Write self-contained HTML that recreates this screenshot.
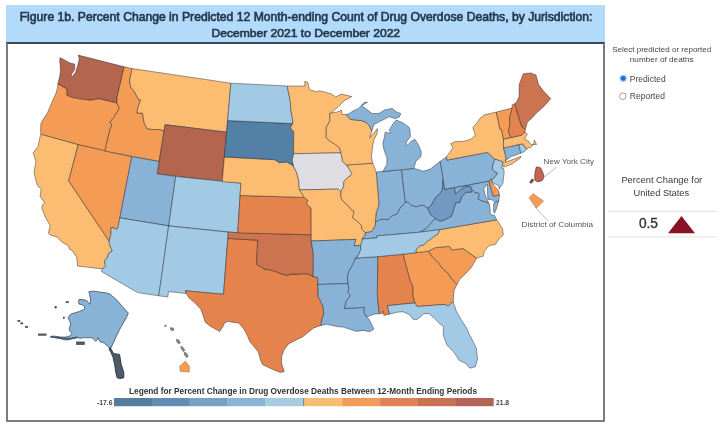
<!DOCTYPE html>
<html><head><meta charset="utf-8">
<style>
html,body{margin:0;padding:0;background:#fff;}
body{width:720px;height:428px;position:relative;overflow:hidden;filter:blur(0.35px);font-family:"Liberation Sans","DejaVu Sans",sans-serif;}
.abs{position:absolute;}
svg text{font-family:"Liberation Sans","DejaVu Sans",sans-serif;white-space:pre;}
#tbar{left:6px;top:5px;width:598.5px;height:37.5px;background:#b2dafb;}
#panel{left:6px;top:42px;width:595px;height:376px;border:2px solid #7c7c7c;border-top:2px solid #3a4a5c;}
</style></head><body>
<div id="tbar" class="abs"></div>
<div id="panel" class="abs"></div>
<svg class="abs" style="left:0;top:0" width="720" height="428" viewBox="0 0 720 428">
<g stroke="rgba(25,30,40,0.55)" stroke-width="0.8" stroke-linejoin="round">
<path fill="#b4654e" d="M60.1,57.6L69.9,62.9L74.6,64.0L74.8,69.4L70.8,75.3L72.3,76.4L75.7,72.3L78.1,64.0L79.3,58.6L78.1,55.1L124.2,66.8L117.0,97.7L116.9,103.0L99.4,98.9L96.9,99.2L89.9,100.3L79.4,98.8L72.5,97.6L66.7,95.3L66.8,92.1L66.8,88.9L63.7,87.4L59.8,84.9L57.8,84.1L59.7,76.5L60.4,71.6L60.2,65.1L59.7,61.1Z"/>
<path fill="#f49b56" d="M57.8,84.1L59.8,84.9L63.7,87.4L66.8,88.9L66.8,92.1L66.7,95.3L72.5,97.6L79.4,98.8L89.9,100.3L96.9,99.2L99.4,98.9L116.9,103.0L119.5,108.8L115.6,114.1L114.3,117.0L111.9,119.6L109.8,122.9L111.4,123.9L111.8,125.9L109.9,129.3L104.9,151.1L78.2,144.7L40.8,134.3L40.6,130.3L40.9,123.4L43.9,118.3L47.5,112.9L51.3,103.7L55.9,93.4L57.7,87.5Z"/>
<path fill="#fcbd72" d="M40.8,134.3L78.2,144.7L68.7,180.9L109.2,241.2L109.3,243.8L111.2,248.6L112.4,251.1L109.0,252.9L106.8,258.5L104.3,260.6L105.6,265.9L102.6,268.9L77.5,266.0L77.2,261.2L76.6,257.2L72.6,251.2L69.0,248.7L68.6,245.8L64.9,243.9L61.2,241.4L57.0,237.2L49.8,234.7L48.4,233.0L50.1,225.7L45.5,217.4L41.8,208.6L42.3,204.9L44.4,202.9L43.0,200.5L40.1,196.5L41.2,189.0L37.2,185.3L34.0,172.6L35.9,161.4L33.1,152.8L38.0,146.5L40.1,136.7Z"/>
<path fill="#f49b56" d="M78.2,144.7L131.9,156.7L118.0,227.7L116.5,229.6L113.3,227.7L110.7,227.8L111.1,230.8L111.0,234.0L109.2,241.2L68.7,180.9Z"/>
<path fill="#f49b56" d="M124.1,66.8L132.2,68.6L129.5,80.8L131.0,87.7L133.9,90.8L138.3,99.2L140.6,99.7L138.0,107.4L136.9,112.8L142.6,113.3L144.0,122.3L146.9,128.5L152.2,129.5L160.3,129.6L164.1,130.8L159.1,161.5L104.9,151.1L109.9,129.3L111.8,125.9L111.4,123.9L109.8,122.9L111.9,119.6L114.3,117.0L115.6,114.1L119.5,108.8L116.9,103.0L117.0,97.7Z"/>
<path fill="#fcbd72" d="M132.2,68.6L230.9,83.2L226.6,132.2L165.1,124.7L164.1,130.8L160.3,129.6L152.2,129.5L146.9,128.5L144.0,122.3L142.6,113.3L136.9,112.8L138.0,107.4L140.6,99.7L138.3,99.2L133.9,90.8L131.0,87.7L129.5,80.8Z"/>
<path fill="#b4654e" d="M165.1,124.7L226.6,132.2L222.2,181.7L157.1,173.8Z"/>
<path fill="#89b3d6" d="M131.8,156.7L159.1,161.5L157.1,173.8L175.7,176.5L168.7,225.9L119.8,217.9Z"/>
<path fill="#a3cae4" d="M175.7,176.5L240.9,183.1L237.7,232.9L168.7,225.9Z"/>
<path fill="#a3cae4" d="M119.8,217.9L168.7,225.9L158.8,295.8L137.5,292.6L101.3,271.4L102.6,268.9L105.6,265.9L104.3,260.6L106.8,258.5L109.0,252.9L112.4,251.1L111.2,248.6L109.3,243.8L109.2,241.2L111.0,234.0L111.1,230.8L110.7,227.8L113.3,227.7L116.5,229.6L117.9,227.7Z"/>
<path fill="#a3cae4" d="M168.7,225.9L228.3,232.2L223.5,294.3L185.4,290.8L186.4,293.6L168.5,291.5L167.8,297.0L158.8,295.8Z"/>
<path fill="#e5834d" d="M227.8,238.4L257.7,240.2L256.6,264.3L260.6,266.8L264.6,269.1L270.8,270.0L276.9,272.0L282.0,274.0L287.2,275.3L291.3,274.1L297.5,274.1L302.7,273.7L307.8,273.8L313.2,276.6L317.8,277.6L318.2,296.9L319.7,299.4L323.1,306.7L323.8,314.1L322.3,317.9L320.9,325.4L313.8,327.9L310.5,330.5L307.3,333.0L302.9,336.7L294.1,341.0L288.5,344.0L284.0,350.1L281.7,356.3L281.6,363.6L284.3,371.6L280.3,372.4L274.7,370.2L270.2,368.3L262.4,364.4L260.3,359.4L258.3,351.9L254.1,346.8L249.9,341.7L246.4,333.5L243.4,328.4L238.8,323.0L232.3,322.2L228.0,321.3L224.6,322.9L222.7,327.1L219.6,331.5L215.4,329.1L210.2,326.2L205.1,322.0L203.4,316.3L200.8,309.2L195.0,303.0L189.1,298.0L186.4,293.6L185.4,290.8L223.5,294.3Z"/>
<path fill="#cc7350" d="M228.3,232.2L311.2,234.8L311.3,241.0L313.4,254.7L313.2,276.6L307.8,273.8L302.7,273.7L297.5,274.1L291.3,274.1L287.2,275.3L282.0,274.0L276.9,272.0L270.8,270.0L264.6,269.1L260.6,266.8L256.6,264.3L257.7,240.2L227.8,238.4Z"/>
<path fill="#e5834d" d="M240.1,195.5L304.3,197.4L308.1,200.5L306.2,203.0L311.1,208.3L311.2,234.8L237.7,232.9Z"/>
<path fill="#fcbd72" d="M224.4,156.9L274.9,159.7L279.4,162.7L286.7,161.9L291.2,164.4L293.5,166.3L296.7,172.5L299.0,181.8L299.0,186.2L299.5,189.9L304.3,197.4L240.1,195.5L240.9,183.1L222.2,181.7Z"/>
<path fill="#5380a6" d="M227.6,120.6L292.8,123.6L290.3,127.8L293.7,131.5L293.6,153.8L292.2,160.0L293.5,166.3L291.2,164.4L286.7,161.9L279.4,162.7L274.9,159.7L224.4,156.9Z"/>
<path fill="#a3cae4" d="M230.9,83.2L287.5,86.0L288.1,90.9L289.3,95.8L290.5,103.2L290.9,110.6L292.5,119.2L292.8,123.6L227.6,120.6Z"/>
<path fill="#fcbd72" d="M287.5,86.0L304.8,86.1L304.8,81.4L307.7,82.2L309.5,89.5L316.2,91.8L319.5,90.7L326.3,92.4L331.4,94.0L335.7,96.9L341.5,94.1L351.8,96.6L344.4,100.7L336.3,108.5L331.3,113.0L329.6,113.7L329.9,121.1L326.2,127.4L326.3,131.1L326.1,137.9L330.7,141.5L335.3,144.4L339.9,148.5L340.9,152.8L293.6,153.8L293.7,131.5L290.3,127.8L292.8,123.6L292.5,119.2L290.9,110.6L290.5,103.2L289.3,95.8L288.1,90.9Z"/>
<path fill="#dedde1" d="M293.6,153.8L340.9,152.8L342.3,159.0L342.4,161.5L346.7,165.0L351.8,173.4L350.1,176.0L347.9,177.4L343.9,181.3L343.7,186.3L340.9,191.7L338.1,189.1L299.5,189.9L299.0,186.2L299.0,181.8L296.7,172.5L293.5,166.3L292.2,160.0Z"/>
<path fill="#fcbd72" d="M299.5,189.9L338.1,189.1L340.9,191.7L340.9,196.5L342.0,200.1L348.0,205.5L351.1,209.7L353.6,210.8L353.8,213.3L352.6,217.7L357.2,221.2L361.4,225.3L361.7,229.0L365.4,232.5L365.1,235.0L362.3,239.0L362.0,241.5L360.8,245.3L354.0,245.7L355.9,239.4L311.3,241.0L311.2,234.8L311.1,208.3L306.2,203.0L308.1,200.5L304.3,197.4Z"/>
<path fill="#89b3d6" d="M311.3,241.0L355.9,239.4L354.0,245.7L360.8,245.3L360.6,250.3L357.4,256.8L355.5,258.1L352.8,264.5L349.0,271.0L347.3,277.3L348.1,283.5L317.9,284.5L317.8,277.6L313.2,276.6L313.4,254.7Z"/>
<path fill="#89b3d6" d="M317.9,284.5L348.1,283.5L348.9,288.4L348.0,292.2L350.3,295.8L346.3,301.0L344.5,308.5L364.5,307.4L364.1,312.4L366.6,317.2L368.9,318.9L373.9,329.1L369.8,331.8L363.1,330.4L356.5,331.4L349.9,329.3L343.2,327.1L337.7,326.7L326.8,324.3L320.9,325.4L322.3,317.9L323.8,314.1L323.1,306.7L319.7,299.4L318.2,296.9Z"/>
<path fill="#89b3d6" d="M355.5,258.1L376.8,256.7L377.9,257.8L377.3,295.3L379.3,313.8L373.9,314.2L366.6,317.2L364.1,312.4L364.5,307.4L344.5,308.5L346.3,301.0L350.3,295.8L348.0,292.2L348.9,288.4L348.1,283.5L347.3,277.3L349.0,271.0L352.8,264.5Z"/>
<path fill="#e5834d" d="M376.8,256.7L403.1,254.2L410.2,280.4L413.1,286.9L413.0,295.7L414.9,302.9L387.3,305.7L389.6,314.2L383.8,315.3L383.4,311.0L382.5,313.6L379.3,313.8L377.3,295.3L377.9,257.8Z"/>
<path fill="#f49b56" d="M403.1,254.2L428.4,251.2L432.3,256.9L438.2,262.4L442.2,268.1L448.3,273.5L451.1,278.1L456.9,284.4L454.1,290.2L453.2,301.6L447.9,306.2L445.4,304.4L416.9,306.5L414.9,302.9L413.0,295.7L413.1,286.9L410.2,280.4Z"/>
<path fill="#a3cae4" d="M387.3,305.7L414.9,302.9L416.9,306.5L445.4,304.4L447.9,306.2L453.2,301.6L456.3,311.2L460.9,319.2L466.8,328.3L468.7,333.0L476.3,347.9L477.6,358.9L475.4,366.7L469.9,368.2L465.6,363.3L459.4,360.5L455.0,353.7L452.2,350.4L446.9,345.0L445.1,340.2L443.1,334.3L443.7,326.7L439.4,323.6L434.2,318.1L429.3,313.7L423.8,313.7L421.9,315.8L416.9,319.5L413.0,319.3L409.8,314.7L402.9,311.7L396.5,312.3L389.6,314.2Z"/>
<path fill="#f49b56" d="M428.4,251.2L435.1,247.7L448.7,246.4L450.0,246.8L451.9,250.0L463.0,248.5L476.7,258.1L471.5,267.2L465.3,274.0L459.8,279.3L456.9,284.4L451.1,278.1L448.3,273.5L442.2,268.1L438.2,262.4L432.3,256.9Z"/>
<path fill="#fcbd72" d="M439.7,229.6L438.1,233.5L431.7,238.2L427.1,241.7L423.4,244.9L419.5,246.0L415.9,249.6L416.1,252.7L428.4,251.2L435.1,247.7L448.7,246.4L450.0,246.8L451.9,250.0L463.0,248.5L476.7,258.1L483.2,256.2L484.3,251.0L489.4,245.5L495.5,244.3L499.4,238.4L503.3,235.0L502.4,228.2L496.7,219.8Z"/>
<path fill="#89b3d6" d="M496.7,219.8L439.7,229.6L419.9,232.2L426.2,228.2L432.3,221.7L435.1,218.3L440.2,221.2L446.3,219.0L451.4,216.3L453.4,210.2L455.6,202.9L459.9,202.2L461.8,196.8L465.9,192.2L471.4,192.1L472.0,189.5L474.7,192.5L478.6,193.2L479.7,194.7L478.0,198.8L481.3,200.7L485.5,201.8L489.5,204.1L490.1,209.1L490.2,214.2L494.5,215.6ZM495.1,202.3L498.8,200.5L496.8,207.7L494.5,213.3L493.5,211.0L493.8,203.2Z"/>
<path fill="#7199c2" d="M427.5,208.2L430.9,205.5L434.0,200.0L435.5,197.3L439.8,193.5L441.8,190.6L442.5,186.1L442.6,181.0L442.9,177.9L444.7,189.3L454.5,187.6L455.7,194.0L459.6,190.2L465.3,186.6L470.6,186.3L472.0,189.5L471.4,192.1L465.9,192.2L461.8,196.8L459.9,202.2L455.6,202.9L453.4,210.2L451.4,216.3L446.3,219.0L440.2,221.2L435.1,218.3L430.3,214.4Z"/>
<path fill="#89b3d6" d="M454.5,187.6L489.1,181.0L490.0,184.9L493.3,196.2L499.5,194.9L498.8,200.5L495.1,202.3L492.1,199.8L488.0,199.4L487.4,191.8L487.5,185.4L487.3,184.2L483.8,188.7L485.1,194.9L488.8,203.0L485.5,201.8L481.3,200.7L478.0,198.8L479.7,194.7L478.6,193.2L474.7,192.5L472.0,189.5L472.0,189.5L470.6,186.3L465.3,186.6L459.6,190.2L455.7,194.0Z"/>
<path fill="#f49b56" d="M489.1,181.0L490.6,179.2L492.1,179.4L491.7,182.0L493.9,185.4L498.5,190.7L499.5,194.9L493.3,196.2L490.0,184.9Z"/>
<path fill="#a3cae4" d="M491.7,182.0L492.1,179.4L494.9,176.8L497.5,173.1L494.1,171.3L492.2,169.1L492.4,165.9L494.7,158.9L503.0,161.6L502.8,164.8L501.1,167.8L503.7,168.5L504.2,172.8L503.3,179.4L503.1,182.7L499.1,188.9L498.8,185.6L495.6,184.3Z"/>
<path fill="#89b3d6" d="M440.1,161.5L446.5,156.8L447.0,160.1L487.0,152.4L489.8,154.3L494.7,158.9L492.4,165.9L492.2,169.1L494.1,171.3L497.5,173.1L494.9,176.8L492.1,179.4L490.6,179.2L489.1,181.0L444.7,189.3Z"/>
<path fill="#fcbd72" d="M447.0,160.1L446.5,156.8L452.9,147.7L450.7,143.7L455.4,141.6L463.7,141.3L470.7,139.3L475.3,135.2L472.8,127.5L476.5,123.5L479.9,118.4L484.6,114.8L496.2,112.1L497.7,118.1L499.9,129.1L501.4,129.4L503.5,139.1L503.6,148.0L506.2,158.3L505.3,161.1L505.1,162.4L514.8,158.8L521.0,156.3L520.5,158.0L512.3,163.9L504.3,167.0L502.8,166.8L502.8,164.8L503.0,161.6L494.7,158.9L489.8,154.3L487.0,152.4Z"/>
<path fill="#89b3d6" d="M503.6,148.0L518.9,144.6L521.1,153.0L516.7,154.8L511.4,156.4L507.3,159.3L505.3,161.1L506.2,158.3Z"/>
<path fill="#a3cae4" d="M518.9,144.6L522.6,143.7L523.0,145.1L525.1,146.5L526.7,149.3L524.1,151.7L520.7,153.2Z"/>
<path fill="#fcbd72" d="M503.6,148.0L503.5,139.1L510.8,137.6L521.6,135.2L523.5,133.4L525.0,132.1L527.5,134.3L525.1,137.5L525.1,139.4L528.5,141.1L529.4,142.8L531.3,144.6L536.6,144.4L534.4,140.1L533.6,144.2L530.7,147.6L528.3,147.6L526.7,149.3L525.1,146.5L523.0,145.1L522.6,143.7L518.9,144.6Z"/>
<path fill="#f49b56" d="M503.5,139.1L510.8,137.6L508.3,130.9L509.9,124.7L509.5,117.8L512.2,108.8L512.0,108.1L496.2,112.1L497.7,118.1L499.9,129.1L501.4,129.4Z"/>
<path fill="#e5834d" d="M510.8,137.6L521.6,135.2L523.5,133.4L525.0,132.1L525.3,129.5L521.9,126.8L519.3,119.1L514.7,103.7L512.1,105.0L512.0,108.1L512.2,108.8L509.5,117.8L509.9,124.7L508.3,130.9Z"/>
<path fill="#cc7350" d="M525.3,129.5L521.9,126.8L519.3,119.1L514.7,103.7L516.7,101.8L519.0,96.7L519.1,92.2L519.2,84.5L523.2,73.8L530.9,72.9L536.0,75.0L538.4,84.2L543.9,91.5L550.7,98.5L546.7,103.6L541.7,108.4L536.5,113.1L530.8,119.2L527.4,122.1Z"/>
<path fill="#89b3d6" d="M440.1,161.5L435.3,165.1L430.3,169.1L423.1,171.3L420.0,169.9L413.8,168.5L401.4,170.3L405.2,202.5L408.1,202.2L411.4,205.6L416.4,206.8L423.0,205.0L427.5,208.2L430.9,205.5L434.0,200.0L435.5,197.3L439.8,193.5L441.8,190.6L442.5,186.1L442.6,181.0L442.9,177.9Z"/>
<path fill="#89b3d6" d="M365.4,232.5L371.7,231.4L375.2,225.5L375.4,221.8L380.6,219.4L388.5,219.3L392.0,215.9L397.2,213.8L400.0,208.1L405.2,202.5L408.1,202.2L411.4,205.6L416.4,206.8L423.0,205.0L427.5,208.2L430.3,214.4L435.1,218.3L432.3,221.7L426.2,228.2L419.9,232.2L376.6,236.0L376.8,237.9L362.3,239.0L365.1,235.0Z"/>
<path fill="#a3cae4" d="M439.7,229.6L419.9,232.2L376.6,236.0L376.8,237.9L362.3,239.0L362.0,241.5L360.8,245.3L360.6,250.3L357.4,256.8L355.5,258.1L376.8,256.7L403.1,254.2L416.1,252.7L415.9,249.6L419.5,246.0L423.4,244.9L427.1,241.7L431.7,238.2L438.1,233.5Z"/>
<path fill="#89b3d6" d="M376.2,172.1L401.3,169.6L405.2,202.5L400.0,208.1L397.2,213.8L392.0,215.9L388.5,219.3L380.6,219.4L375.4,221.8L376.1,212.9L378.5,206.5L378.8,202.1Z"/>
<path fill="#fcbd72" d="M346.7,165.0L372.8,163.2L375.2,169.2L376.3,172.9L378.8,202.1L378.5,206.5L376.1,212.9L375.4,221.8L375.2,225.5L371.7,231.4L365.4,232.5L361.7,229.0L361.4,225.3L357.2,221.2L352.6,217.7L353.8,213.3L353.6,210.8L351.1,209.7L348.0,205.5L342.0,200.1L340.9,196.5L340.9,191.7L343.7,186.3L343.9,181.3L347.9,177.4L350.1,176.0L351.8,173.4Z"/>
<path fill="#fcbd72" d="M331.3,113.0L329.6,113.7L329.9,121.1L326.2,127.4L326.3,131.1L326.1,137.9L330.7,141.5L335.3,144.4L339.9,148.5L340.9,152.8L342.3,159.0L342.4,161.5L346.7,165.0L372.8,163.2L371.4,157.1L372.4,148.3L373.6,140.7L377.3,132.9L377.3,128.6L373.0,133.9L369.7,137.9L371.8,130.9L369.6,126.1L366.7,122.7L361.3,120.6L350.7,119.5L345.9,114.6L341.7,114.4L341.5,110.1L336.5,112.2Z"/>
<path fill="#89b3d6" d="M382.8,171.5L401.3,169.6L413.8,168.5L416.0,161.0L421.0,156.6L421.2,151.5L418.3,144.4L414.8,139.2L411.5,140.9L406.7,145.9L406.2,142.2L410.4,136.7L409.9,129.3L408.7,126.9L402.8,122.7L396.3,120.0L393.9,122.5L390.9,127.2L389.4,129.8L390.7,133.4L385.2,132.1L384.4,137.2L382.8,143.6L383.9,149.7L387.0,158.1L386.8,164.4ZM345.9,114.6L350.7,119.5L361.3,120.6L366.7,122.7L369.6,126.1L371.8,130.9L373.9,124.5L379.7,121.5L384.8,119.1L388.9,116.8L395.2,118.6L399.4,116.9L400.8,113.6L396.2,111.7L392.3,108.4L384.6,109.9L378.9,113.5L372.0,113.5L366.4,109.1L361.8,105.7L367.5,102.2L364.1,102.5L358.6,108.4L353.6,110.6L349.5,113.4Z"/>
</g>
<path fill="#89b3d6" stroke="#3e4c5a" stroke-width="0.8" stroke-linejoin="round" d="M88.8,291.8L92.0,291.2L96.4,291.4L100.0,292.2L104.0,292.6L107.0,293.2L110.1,294.1L113.0,296.8L116.2,299.4L119.0,302.6L122.2,306.3L125.0,309.4L128.3,313.1L126.8,316.9L123.8,322.0L120.7,327.5L118.4,332.0L116.2,336.6L114.2,341.0L112.4,345.0L110.6,348.6L108.6,347.0L106.5,345.2L104.5,343.2L102.4,342.4L100.2,341.9L98.8,339.6L98.0,337.6L97.2,339.8L95.7,341.4L94.2,339.6L92.6,338.2L90.4,337.6L87.5,337.8L84.3,337.6L81.5,338.0L79.7,338.3L77.2,337.2L74.5,338.2L71.0,339.2L66.0,340.1L60.0,338.6L55.0,337.6L50.9,337.2L51.2,336.2L55.0,336.2L60.0,337.0L65.0,337.2L69.0,336.4L72.1,333.8L70.2,331.5L69.1,329.0L70.2,326.0L70.6,323.0L69.2,320.5L68.3,317.6L69.6,315.2L71.4,313.8L74.0,313.2L76.7,312.3L79.5,311.4L82.8,310.0L84.6,308.6L84.2,306.4L82.8,304.9L80.6,304.6L79.0,304.0L78.6,301.6L79.0,299.4L82.0,299.6L85.8,300.2L88.1,301.9L90.2,304.4L90.6,300.0L89.6,294.1Z" />
<path d="M51,336.8L58,337.6L66,338.6L72,338.2L77,337.4" fill="none" stroke="#4a5a6a" stroke-width="1.6" stroke-linecap="round"/>
<path fill="#4d5b69" stroke="#27313b" stroke-width="0.9" stroke-linejoin="round" d="M109.8,347.4L111.6,350.0L113.6,353.6L119.6,354.4L121.2,364.5L123.8,372.4L123.8,377.8L119.6,378.6L117.0,377.6L116.0,373.3L114.6,364.5L113.0,357.2L110.8,352.2L109.2,349.4Z" />
<rect x="17.8" y="320.4" width="2.2" height="1.2" fill="#4f5d6b" stroke="#2e3a46" stroke-width="0.5"/>
<rect x="20.8" y="322.8" width="2" height="1.2" fill="#4f5d6b" stroke="#2e3a46" stroke-width="0.5"/>
<rect x="25.4" y="326.2" width="2.4" height="1.4" fill="#4f5d6b" stroke="#2e3a46" stroke-width="0.5"/>
<rect x="38.2" y="333.9" width="8" height="1.4" fill="#4f5d6b" stroke="#2e3a46" stroke-width="0.5"/>
<rect x="76.5" y="341.9" width="8" height="2.8" fill="#4f5d6b" stroke="#2e3a46" stroke-width="0.5"/>
<rect x="55" y="306.4" width="1.3" height="1.7" fill="#4f5d6b" stroke="#2e3a46" stroke-width="0.5"/>
<rect x="63.3" y="317" width="1.2" height="1.6" fill="#4f5d6b" stroke="#2e3a46" stroke-width="0.5"/>
<rect x="66" y="301.6" width="2.6" height="1.2" fill="#4f5d6b" stroke="#2e3a46" stroke-width="0.5"/>
<path fill="#8e847c" stroke="#6a625c" stroke-width="0.7" stroke-linejoin="round" d="M164.8,325.2L166.2,325.4L166.0,326.6L164.9,326.4Z" />
<path fill="#8e847c" stroke="#6a625c" stroke-width="0.7" stroke-linejoin="round" d="M170.4,327.8L173.2,328.0L174.0,330.0L171.6,330.6L170.6,329.5Z" />
<path fill="#8e847c" stroke="#6a625c" stroke-width="0.7" stroke-linejoin="round" d="M176.4,339.4L178.6,339.8L180.2,342.6L179.0,344.0L177.0,342.0Z" />
<path fill="#8e847c" stroke="#6a625c" stroke-width="0.7" stroke-linejoin="round" d="M180.8,346.4L183.2,347.6L184.8,350.4L183.6,351.6L181.4,349.0Z" />
<path fill="#8e847c" stroke="#6a625c" stroke-width="0.7" stroke-linejoin="round" d="M184.2,352.2L186.6,353.2L188.2,356.4L186.6,357.4L184.6,355.0Z" />
<path fill="#f49b56" stroke="#a86a48" stroke-width="0.5" stroke-linejoin="round" d="M185.3,361.1L189.2,366.0L189.4,372.0L180.3,371.6L179.6,366.3Z" />
<path fill="#c8644f" stroke="#5e3a34" stroke-width="0.8" stroke-linejoin="round" d="M536.4,167.0L538.6,167.2L540.3,167.7L541.6,169.6L542.4,171.9L543.6,174.5L543.8,176.8L543.2,178.8L542.4,180.3L540.2,181.3L538.2,181.7L536.4,181.2L535.0,180.3L534.8,177.2L535.0,174.0L535.2,171.8L535.7,169.8Z" />
<path fill="#7a5048" stroke="#4a3430" stroke-width="0.6" stroke-linejoin="round" d="M531.6,179.2L533.4,179.4L533.2,181.6L531.2,183.2L529.9,182.8L530.4,181.0Z" />
<path fill="#f49b56" stroke="#b06a3a" stroke-width="0.45" stroke-linejoin="round" d="M533.1,193.6L543.6,201.0L536.3,208.3L528.9,197.8Z" />
<line x1="543.6" y1="177.8" x2="556.2" y2="167.3" stroke="#9a9a9a" stroke-width="0.7"/>
<line x1="535.2" y1="207.2" x2="547.8" y2="220.9" stroke="#9a9a9a" stroke-width="0.7"/>
<rect x="114" y="398" width="38.10000000000001" height="8.2" fill="#557da2"/>
<rect x="151.8" y="398" width="38.09999999999998" height="8.2" fill="#648cb4"/>
<rect x="189.6" y="398" width="38.10000000000001" height="8.2" fill="#78a0c3"/>
<rect x="227.4" y="398" width="38.09999999999998" height="8.2" fill="#87b4d7"/>
<rect x="265.2" y="398" width="38.10000000000001" height="8.2" fill="#a5cde1"/>
<rect x="303" y="398" width="1.6" height="8.2" fill="#8a8a8a"/>
<rect x="304.6" y="398" width="38.09999999999995" height="8.2" fill="#f7bd72"/>
<rect x="342.4" y="398" width="38.10000000000001" height="8.2" fill="#ef9c5a"/>
<rect x="380.2" y="398" width="38.10000000000001" height="8.2" fill="#df8354"/>
<rect x="418" y="398" width="38.10000000000001" height="8.2" fill="#c97355"/>
<rect x="455.8" y="398" width="37.89999999999996" height="8.2" fill="#b46455"/>
<line x1="608" y1="211.4" x2="717" y2="211.4" stroke="#e2e2e2" stroke-width="1"/>
<line x1="608" y1="236.9" x2="717" y2="236.9" stroke="#e2e2e2" stroke-width="1"/>
<circle cx="623.2" cy="78.3" r="3.6" fill="#9cc3f5"/>
<circle cx="623.2" cy="78.3" r="2.4" fill="#1f6fd9"/>
<circle cx="622.8" cy="96.2" r="3.3" fill="#fff" stroke="#8a8a8a" stroke-width="0.8"/>
<path d="M681.5,216L695,233.3L668,233.3Z" fill="#8a1224"/>
<text stroke="#23364a" stroke-width="0.6" x="19.7" y="20.6" font-size="11.9" font-weight="normal" fill="#23364a" textLength="572.7" lengthAdjust="spacingAndGlyphs">Figure 1b. Percent Change in Predicted 12 Month-ending Count of Drug Overdose Deaths, by Jurisdiction:</text><text stroke="#23364a" stroke-width="0.6" x="211.6" y="37.4" font-size="11.5" font-weight="normal" fill="#23364a" textLength="188.5" lengthAdjust="spacingAndGlyphs">December 2021 to December 2022</text><text x="129" y="394" font-size="8.8" font-weight="bold" fill="#333" textLength="348" lengthAdjust="spacingAndGlyphs">Legend for Percent Change in Drug Overdose Deaths Between 12-Month Ending Periods</text><text x="97" y="404.6" font-size="7.4" font-weight="bold" fill="#444" textLength="15.5" lengthAdjust="spacingAndGlyphs">-17.6</text><text x="496" y="404.6" font-size="7.6" font-weight="bold" fill="#444" textLength="13" lengthAdjust="spacingAndGlyphs">21.8</text><text x="543.6" y="164" font-size="7.2" font-weight="normal" fill="#555" textLength="50.4" lengthAdjust="spacingAndGlyphs">New York City</text><text x="521.6" y="226.8" font-size="7.2" font-weight="normal" fill="#555" textLength="71.4" lengthAdjust="spacingAndGlyphs">District of Columbia</text><text x="612.2" y="52" font-size="7.7" font-weight="normal" fill="#444" textLength="99" lengthAdjust="spacingAndGlyphs">Select predicted or reported</text><text x="629.8" y="62.4" font-size="7.7" font-weight="normal" fill="#444" textLength="63.9" lengthAdjust="spacingAndGlyphs">number of deaths</text><text x="629.8" y="81.9" font-size="8.2" font-weight="normal" fill="#444" textLength="35.9" lengthAdjust="spacingAndGlyphs">Predicted</text><text x="629.8" y="99.1" font-size="8.2" font-weight="normal" fill="#444" textLength="35.1" lengthAdjust="spacingAndGlyphs">Reported</text><text x="621.4" y="182.8" font-size="9.6" font-weight="normal" fill="#3a3a3a" textLength="80.8" lengthAdjust="spacingAndGlyphs">Percent Change for</text><text x="633.6" y="195.8" font-size="9.6" font-weight="normal" fill="#3a3a3a" textLength="55.5" lengthAdjust="spacingAndGlyphs">United States</text><text stroke="#333" stroke-width="0.35" x="638.9" y="227.7" font-size="14" font-weight="normal" fill="#333" textLength="19.1" lengthAdjust="spacingAndGlyphs">0.5</text>
</svg>
</body></html>
